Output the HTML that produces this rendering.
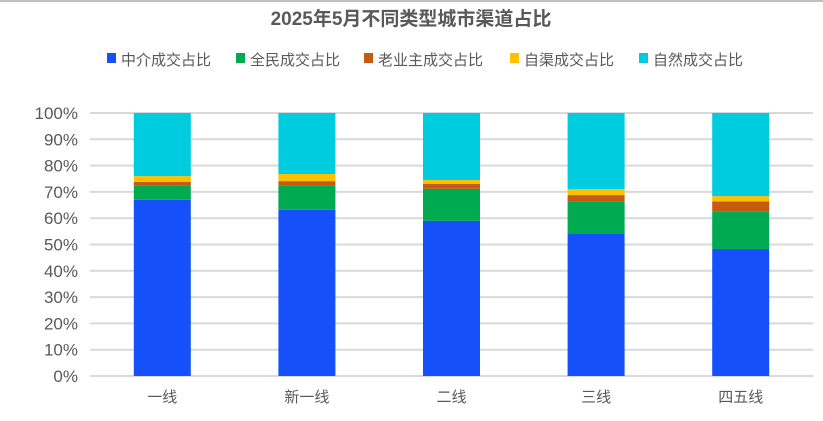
<!DOCTYPE html>
<html><head><meta charset="utf-8">
<style>
body{margin:0;background:#fff;}
svg{display:block;font-family:"Liberation Sans","Noto Sans CJK SC",sans-serif;}
</style></head>
<body>
<svg id="chart" width="823" height="421" viewBox="0 0 823 421">
<rect x="0" y="0" width="823" height="2" fill="#c0c0c0"/>
<text x="411" y="25" text-anchor="middle" font-size="19" font-weight="bold" fill="#595959">2025年5月不同类型城市渠道占比</text>
<g id="legend"></g>
<g id="grid"></g>
<g id="bars"></g>
<g id="labels"></g>
</svg>
<script>
const categories = ["一线","新一线","二线","三线","四五线"];
const seriesNames = ["中介成交占比","全民成交占比","老业主成交占比","自渠成交占比","自然成交占比"];
const agency = [67, 63.2, 59, 54, 48.3];
const allPeople = [5.5, 9.3, 12.2, 12.3, 14.1];
const owner = [1.3, 1.6, 1.8, 2.5, 4];
const selfChannel = [2.2, 2.7, 1.5, 2.3, 2];
const natural = [24, 23.2, 25.5, 28.9, 31.6];
const yTicks = [0,10,20,30,40,50,60,70,80,90,100];
const colors = ["#1550FA","#00AA50","#C55A11","#FFC000","#00CCE0"];
const ns = "http://www.w3.org/2000/svg";
const plotL = 90, plotR = 813, y0 = 376, y100 = 113;
const yScale = v => y0 - (v/100)*(y0-y100);
const bandW = (plotR-plotL)/categories.length;
const xCenter = i => plotL + bandW*(i+0.5);
const barW = 57;
function mk(tag, attrs, parent){const e=document.createElementNS(ns,tag);for(const k in attrs)e.setAttribute(k,attrs[k]);parent.appendChild(e);return e;}
const grid=document.getElementById('grid'), bars=document.getElementById('bars'), labels=document.getElementById('labels'), legend=document.getElementById('legend');
yTicks.forEach(t=>{
  const l=mk('line',{x1:plotL,x2:plotR,y1:yScale(t),y2:yScale(t),stroke:'#d9d9d9','stroke-width':2},grid);
  
  
  const tx=mk('text',{x:78,y:yScale(t)+6,'text-anchor':'end','font-size':17,fill:'#595959'},labels);
  tx.textContent=t+'%';
  
  
});
const series=[agency,allPeople,owner,selfChannel,natural];
categories.forEach((c,i)=>{
  let cum=0;
  series.forEach((s,k)=>{
    const top=cum+s[i];
    const r=mk('rect',{x:xCenter(i)-barW/2,y:yScale(top),width:barW,height:yScale(cum)-yScale(top),fill:colors[k]},bars);
    
    
    cum=top;
  });
  const tx=mk('text',{x:xCenter(i),y:402,'text-anchor':'middle','font-size':15,fill:'#595959'},labels);
  tx.textContent=c;
  
  
});
const legX=[107,236,364,510,639];
seriesNames.forEach((n,k)=>{
  const r=mk('rect',{x:legX[k],y:53,width:9,height:10,fill:colors[k]},legend);
  
  
  const t=mk('text',{x:legX[k]+14,y:65,'font-size':15,fill:'#595959'},legend);
  t.textContent=n;
  
  
});
</script>
</body></html>
